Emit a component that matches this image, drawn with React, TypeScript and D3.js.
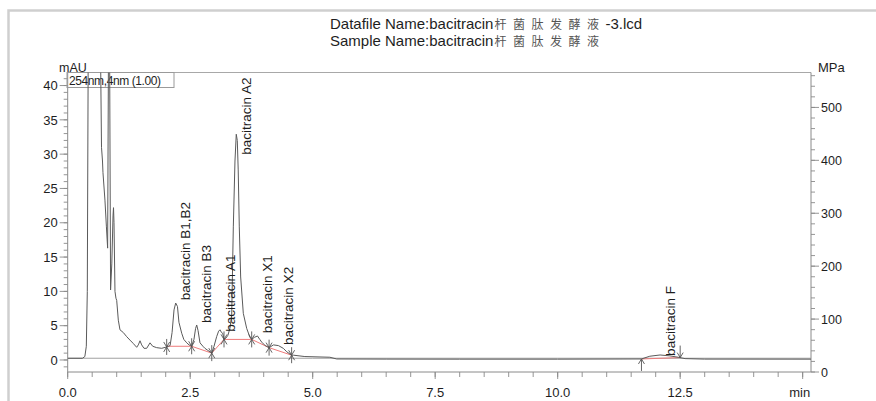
import React from "react";
import * as d3 from "d3";

// ---- data ----
const traceTime = [
  0.0, 0.3, 0.35, 0.38, 0.4, 0.42, 0.45, 0.55, 0.64, 0.67, 0.69, 0.71, 0.72, 0.76, 0.79, 0.815,
  0.835, 0.85, 0.875, 0.9, 0.925, 0.935, 0.945, 0.965, 0.985, 1.0, 1.033, 1.067, 1.135, 1.204,
  1.271, 1.339, 1.408, 1.441, 1.476, 1.51, 1.557, 1.612, 1.68, 1.735, 1.816, 1.918, 2.02, 2.09,
  2.13, 2.17, 2.204, 2.24, 2.27, 2.327, 2.37, 2.43, 2.476, 2.53, 2.577, 2.61, 2.633, 2.66, 2.7,
  2.76, 2.8, 2.86, 2.94, 2.986, 3.04, 3.08, 3.108, 3.14, 3.163, 3.19, 3.23, 3.27, 3.31, 3.347,
  3.38, 3.414, 3.44, 3.461, 3.48, 3.502, 3.53, 3.584, 3.653, 3.72, 3.755, 3.81, 3.873, 3.92,
  3.96, 4.03, 4.11, 4.2, 4.3, 4.4, 4.47, 4.57, 4.61, 4.84, 5.35, 5.49, 6.5, 8.0, 10.0, 11.71,
  11.88, 12.09, 12.29, 12.46, 12.6, 13.0, 15.17,
];
const traceMAU = [
  0.25, 0.25, 0.5, 2.0, 10, 48, 90, 120, 80, 45, 31, 29, 27.3, 23.3, 19.4, 16.3,
  50, 55, 10.2, 14, 21, 22.2, 20, 10, 9, 8.7, 5.8, 4.4, 4.0, 3.4,
  2.9, 2.4, 1.85, 2.2, 2.8, 2.2, 1.7, 1.7, 2.5, 2.0, 1.8, 1.7, 1.9, 2.1,
  4.0, 7.3, 8.3, 7.8, 5.5, 3.9, 3.0, 2.5, 2.2, 2.0, 3.0, 4.6, 5.1, 4.3, 2.5,
  2.0, 1.7, 1.4, 1.0, 2.0, 3.4, 4.2, 4.4, 4.0, 3.9, 3.0, 3.2, 3.6, 4.6, 6.5,
  19.4, 29, 32.9, 32, 27.7, 19.4, 12.1, 6.8, 4.6, 3.3, 3.0, 3.3, 3.5, 3.0,
  2.6, 2.1, 1.8, 2.2, 2.1, 1.7, 1.2, 0.7, 0.7, 0.5, 0.4, 0.15, 0.13, 0.12, 0.12, 0.15,
  0.55, 0.73, 0.6, 0.4, 0.2, 0.13, 0.12,
];

const pressureTime = [0, 5, 10, 15.17];
const pressureMPa = [26, 26, 26, 26];

const peakNames = [
  "bacitracin B1,B2",
  "bacitracin B3",
  "bacitracin A1",
  "bacitracin A2",
  "bacitracin X1",
  "bacitracin X2",
  "bacitracin F",
];
const peakRT = [2.2, 2.63, 3.11, 3.44, 3.88, 4.3, 12.09];
const peakLabelMAU = [8.7, 5.4, 4.1, 29.9, 3.9, 2.2, 0.6];

// integration marks (start/end of peaks) in the cluster
const markTime = [2.02, 2.53, 2.94, 3.19, 3.755, 4.11, 4.57];
const markMAU = [1.9, 2.0, 1.0, 3.0, 3.0, 1.8, 0.7];

// drawn baselines (red)
const baseStartT = [2.02, 2.53, 2.94, 3.19, 3.755, 4.11, 11.71];
const baseStartV = [2.0, 2.0, 1.0, 3.0, 3.0, 1.8, 0.15];
const baseEndT = [2.53, 2.94, 3.19, 3.755, 4.11, 4.57, 12.5];
const baseEndV = [2.0, 1.0, 3.0, 3.0, 1.8, 0.7, 0.35];

// peak F start/end arrows
const fStart = [11.71, 0.15];
const fEnd = [12.5, 0.35];

const xMajor = [0, 2.5, 5, 7.5, 10, 12.5, 15];
const xMajorLabels = ["0.0", "2.5", "5.0", "7.5", "10.0", "12.5", "min"];
const yMajor = [0, 5, 10, 15, 20, 25, 30, 35, 40];
const rMajor = [0, 100, 200, 300, 400, 500];

const titleLine1 = ["Datafile Name:bacitracin", "杆菌肽发酵液", "-3.lcd"];
const titleLine2 = ["Sample Name:bacitracin", "杆菌肽发酵液", ""];
const legendText = "254nm,4nm (1.00)";

const FONT = "'Liberation Sans', Arial, Helvetica, sans-serif";

export default function App() {
  const W = 876;
  const H = 401;
  const left = 67.7;
  const right = 811;
  const top = 72.5;
  const bottom = 372;

  const x = d3.scaleLinear().domain([0, 15.17]).range([left, right]);
  const y = d3.scaleLinear().domain([-1.75, 41.9]).range([bottom, top]);
  const yR = d3.scaleLinear().domain([0, 566]).range([bottom, top]);

  const trace = traceTime.map((t, i) => [t, traceMAU[i]] as [number, number]);
  const line = d3
    .line<[number, number]>()
    .x((d) => x(d[0]))
    .y((d) => y(d[1]));
  const pres = pressureTime.map((t, i) => [t, pressureMPa[i]] as [number, number]);
  const pline = d3
    .line<[number, number]>()
    .x((d) => x(d[0]))
    .y((d) => yR(d[1]));

  const xMinor = d3.range(0, 15.01, 0.5);
  const yMinor = d3.range(-1, 42, 1);
  const rMinor = d3.range(0, 561, 20);

  const axisColor = "#8a8a8a";
  const textColor = "#1e1e1e";

  const marker = (cx: number, cy: number, key: string) => (
    <g key={key} stroke="#555" strokeWidth={0.9} fill="none">
      <line x1={cx} y1={cy - 8} x2={cx} y2={cy + 8} />
      <polyline points={`${cx - 3},${cy - 5} ${cx},${cy} ${cx + 3},${cy - 5}`} />
      <polyline points={`${cx - 3},${cy + 5} ${cx},${cy} ${cx + 3},${cy + 5}`} />
    </g>
  );

  const titleLine = (parts: string[], yy: number, key: string) => (
    <g key={key}>
      <text x={330} y={yy} fontFamily={FONT} fontSize={15} fill={textColor}>
        <tspan>{parts[0]}</tspan>
        <tspan
          fontFamily="'Noto Sans CJK SC', sans-serif"
          fontSize={12}
          fill="#555"
          letterSpacing={6.5}
          dx={1}
        >
          {parts[1]}
        </tspan>
        {parts[2] ? <tspan>{parts[2]}</tspan> : null}
      </text>
    </g>
  );

  return (
    <svg
      width={W}
      height={H}
      viewBox={`0 0 ${W} ${H}`}
      style={{ position: "absolute", left: 0, top: 0, background: "#fff" }}
    >
      <defs>
        <clipPath id="plotClip">
          <rect x={left} y={top} width={right - left} height={bottom - top} />
        </clipPath>
      </defs>
      {/* outer frame */}
      <rect x={8.5} y={10.5} width={900} height={420} fill="none" stroke="#cfcfcf" strokeWidth={2.5} />

      {/* title */}
      {titleLine(titleLine1, 29, "t1")}
      {titleLine(titleLine2, 46, "t2")}

      {/* plot border */}
      <line x1={left} y1={top} x2={right} y2={top} stroke="#a8a8a8" strokeWidth={1} />
      <line x1={left} y1={top} x2={left} y2={bottom} stroke={axisColor} strokeWidth={1} />
      <line x1={right} y1={top} x2={right} y2={bottom} stroke={axisColor} strokeWidth={1} />
      <line x1={left} y1={bottom} x2={right} y2={bottom} stroke={axisColor} strokeWidth={1} />

      {/* left axis ticks */}
      {yMinor.map((v) => (
        <line key={"ym" + v} x1={left - 4} x2={left} y1={y(v)} y2={y(v)} stroke={axisColor} strokeWidth={0.9} />
      ))}
      {yMajor.map((v) => (
        <g key={"yM" + v}>
          <line x1={left - 8} x2={left} y1={y(v)} y2={y(v)} stroke={axisColor} strokeWidth={0.9} />
          <text
            x={left - 10}
            y={y(v)}
            dy="0.36em"
            textAnchor="end"
            fontFamily={FONT}
            fontSize={13}
            fill={textColor}
          >
            {v}
          </text>
        </g>
      ))}
      <text x={59} y={72} fontFamily={FONT} fontSize={12.5} fill={textColor}>
        mAU
      </text>

      {/* right axis ticks */}
      {rMinor.map((v) => (
        <line key={"rm" + v} x1={right} x2={right + 4} y1={yR(v)} y2={yR(v)} stroke={axisColor} strokeWidth={0.9} />
      ))}
      {rMajor.map((v) => (
        <g key={"rM" + v}>
          <line x1={right} x2={right + 8} y1={yR(v)} y2={yR(v)} stroke={axisColor} strokeWidth={0.9} />
          <text x={right + 10} y={yR(v)} dy="0.36em" fontFamily={FONT} fontSize={12.5} fill={textColor}>
            {v}
          </text>
        </g>
      ))}
      <text x={818} y={72} fontFamily={FONT} fontSize={13} fill={textColor}>
        MPa
      </text>

      {/* x axis ticks */}
      {xMinor.map((v) => (
        <line key={"xm" + v} x1={x(v)} x2={x(v)} y1={bottom} y2={bottom + 5} stroke={axisColor} strokeWidth={0.9} />
      ))}
      {xMajor.map((v, i) => (
        <g key={"xM" + v}>
          <line x1={x(v)} x2={x(v)} y1={bottom} y2={bottom + 7} stroke={axisColor} strokeWidth={0.9} />
          <text
            x={i === xMajor.length - 1 ? x(v) - 3 : x(v)}
            y={397}
            textAnchor="middle"
            fontFamily={FONT}
            fontSize={13}
            fill={textColor}
          >
            {xMajorLabels[i]}
          </text>
        </g>
      ))}

      {/* legend box */}
      <rect x={67} y={72.5} width={107} height={15} fill="none" stroke="#9a9a9a" strokeWidth={1} />
      <text x={69} y={85} fontFamily={FONT} fontSize={12} fill={textColor} letterSpacing={-0.4}>
        {legendText}
      </text>

      {/* data */}
      <g clipPath="url(#plotClip)">
        <path d={pline(pres) || ""} fill="none" stroke="#a0a0a0" strokeWidth={1} />
        {baseStartT.map((t, i) => (
          <line
            key={"b" + i}
            x1={x(t)}
            y1={y(baseStartV[i])}
            x2={x(baseEndT[i])}
            y2={y(baseEndV[i])}
            stroke="#ee7b7b"
            strokeWidth={1}
          />
        ))}
        <path d={line(trace) || ""} fill="none" stroke="#5a5a5a" strokeWidth={1} strokeLinejoin="round" />
        {markTime.map((t, i) => marker(x(t), y(markMAU[i]), "m" + i))}
        <g stroke="#555" strokeWidth={0.9} fill="none">
          <line x1={x(fStart[0])} y1={y(fStart[1])} x2={x(fStart[0])} y2={y(fStart[1]) + 12} />
          <polyline
            points={`${x(fStart[0]) - 3},${y(fStart[1]) + 5} ${x(fStart[0])},${y(fStart[1])} ${x(fStart[0]) + 3},${y(fStart[1]) + 5}`}
          />
          <line x1={x(fEnd[0])} y1={y(fEnd[1]) - 12} x2={x(fEnd[0])} y2={y(fEnd[1])} />
          <polyline
            points={`${x(fEnd[0]) - 3},${y(fEnd[1]) - 5} ${x(fEnd[0])},${y(fEnd[1])} ${x(fEnd[0]) + 3},${y(fEnd[1]) - 5}`}
          />
        </g>
      </g>

      {/* peak labels */}
      {peakNames.map((n, i) => {
        const lx = x(peakRT[i]) + 14.5;
        const ly = y(peakLabelMAU[i]);
        return (
          <text
            key={"p" + i}
            transform={`translate(${lx},${ly}) rotate(-90)`}
            fontFamily={FONT}
            fontSize={13.5}
            fill={textColor}
          >
            {n}
          </text>
        );
      })}
    </svg>
  );
}
